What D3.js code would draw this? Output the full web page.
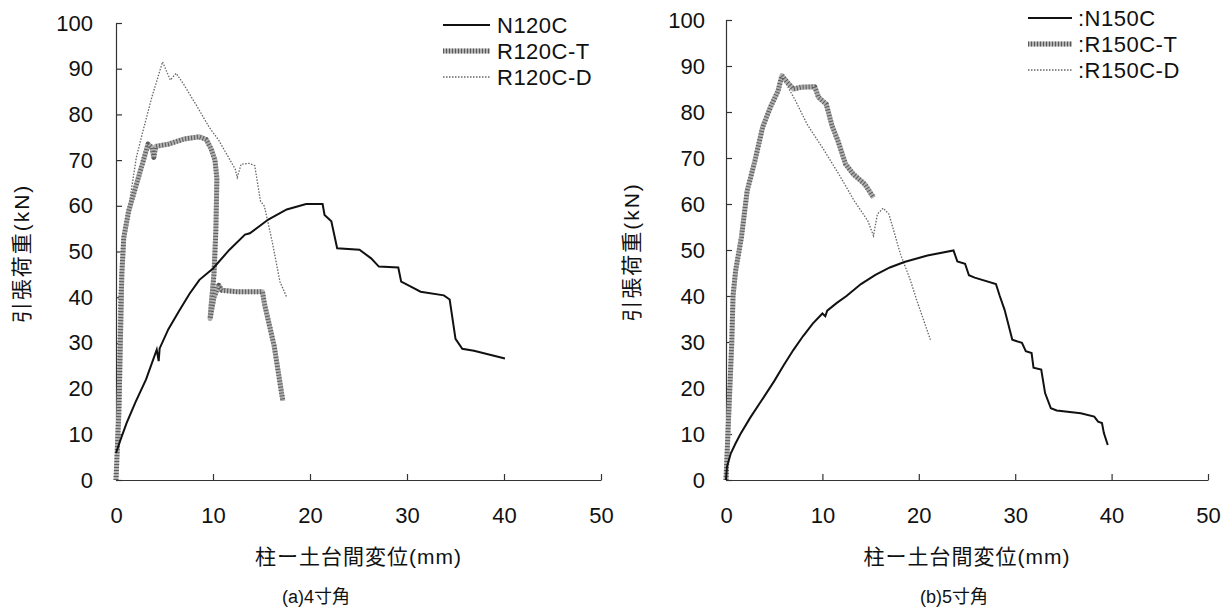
<!DOCTYPE html>
<html>
<head>
<meta charset="utf-8">
<script src="https://cdn.jsdelivr.net/npm/d3@7"></script>
<style>
  body { margin: 0; background: #fff; }
  svg { display: block; }
  text { font-family: "Liberation Sans", Arial, "Noto Sans CJK JP", sans-serif; fill: #111; }
  .jp { font-family: "Liberation Sans", "Noto Sans CJK JP", sans-serif; }
</style>
</head>
<body>
<div id="chart"></div>
<script>
// data: [displacement mm, load kN]
var n120c = [[0,5.9],[0.5,9],[1.1,12.5],[2,17],[3.1,22],[4.2,28.5],[4.4,26],[4.5,28.8],[5.4,33],[6.5,37],[7.6,40.8],[8.6,43.8],[10,46.3],[11.7,50.4],[13.3,53.7],[13.8,54],[15.7,57],[17.6,59.2],[19.6,60.4],[21.3,60.4],[21.5,58],[22.2,56.6],[22.8,50.7],[25.1,50.4],[26.3,48.5],[27.1,46.7],[29.1,46.5],[29.4,43.4],[30.4,42.3],[31.4,41.2],[33.8,40.4],[34.4,39.5],[35,30.9],[35.7,28.7],[36.9,28.3],[40.1,26.6]];
var r120cT = [[0,0],[0.3,15],[0.5,35],[0.6,45],[0.8,53],[1.3,58.8],[1.9,63.2],[2.7,69],[3.3,73.5],[3.7,72.8],[3.9,70.6],[4.1,73],[5.4,73.5],[7,74.6],[8.6,75.1],[9.3,74.5],[9.8,72.5],[10.2,70],[10.4,66],[10.3,55],[10.1,45],[9.8,38],[9.7,35.3],[10.1,40],[10.6,42.6],[10.9,41.5],[12.5,41.2],[15.1,41.2],[15.3,38.6],[16.3,29.4],[17.2,17.3]];
var r120cD = [[0,0],[0.15,20],[0.3,40],[0.6,50],[1.3,59.6],[2.1,70.6],[2.7,75.7],[3.7,83.8],[4.8,91.5],[5.6,87.5],[6.2,89],[7,86.5],[8.4,81.6],[9.6,77.2],[10.6,74.3],[12.3,68],[12.5,66.2],[12.9,69.1],[13.7,69.3],[14.3,68.8],[14.9,61],[15.3,59.9],[16.1,52.2],[16.9,43.4],[17.6,40]];

var n150c = [[0,0],[0.1,2.9],[0.5,5.8],[1,8],[1.5,10],[2.5,13.5],[3.6,17],[5,21.5],[6,25],[7,28.3],[8,31.3],[9,34],[10,36.2],[10.3,35.6],[10.5,36.8],[11.5,38.5],[12.5,40],[14,42.6],[15.5,44.6],[17,46.2],[18.5,47.4],[20.9,48.8],[23.6,49.9],[24,47.5],[24.8,47],[25.2,44.5],[25.8,44],[28,42.6],[28.4,40],[28.9,37],[29.7,30.5],[30.7,29.8],[31.1,28],[31.7,27.6],[31.9,24.4],[32.7,24],[33.1,18.9],[33.7,15.6],[34.3,15.1],[36.8,14.5],[38.2,13.8],[38.6,12.7],[39,12.4],[39.2,10.2],[39.6,7.6]];
var r150cT = [[0,0],[0.2,10],[0.4,20],[0.6,30],[0.73,40],[1,45.5],[1.6,52.8],[2.2,62.9],[3,69.4],[3.8,76.7],[4.6,81],[5.4,84.6],[5.8,87.9],[6.4,86.4],[7,85],[7.8,85.4],[9.2,85.5],[9.6,83.2],[10.4,81.7],[11,77],[11.6,73.8],[12.4,68.7],[13.2,66.5],[14.4,64.3],[15.3,61.4]];
var r150cD = [[0,0],[0.15,10],[0.3,20],[0.6,35],[1,45],[1.6,53],[2.2,62.5],[3,69],[3.8,76],[4.6,80.5],[5.4,84],[5.8,87.5],[6.4,85.5],[7.2,82.5],[8.4,77.4],[10.2,71.6],[11.7,66.5],[13.3,60.7],[14.7,56.4],[15.3,53.1],[15.7,57.8],[16.3,59.1],[16.9,57.8],[18.1,49.1],[19.1,43.6],[19.8,39],[21.2,30.5]];

var xTicks = [0, 10, 20, 30, 40, 50];
var yTicks = [0, 10, 20, 30, 40, 50, 60, 70, 80, 90, 100];
var namesA = ["N120C", "R120C-T", "R120C-D"];
var namesB = [":N150C", ":R150C-T", ":R150C-D"];
var yTitle = "引張荷重(kN)";
var xTitle = "柱ー土台間変位(mm)";
var captions = ["(a)4寸角", "(b)5寸角"];

var svg = d3.select("#chart").append("svg")
  .attr("width", 1229)
  .attr("height", 610);

var line = function(x, y) {
  return d3.line().x(d => x(d[0])).y(d => y(d[1]));
};

// three line looks: solid black, hatched thick grey, thin dotted
function styleSeries(sel, kind) {
  if (kind === 0) {
    sel.append("path").attr("fill", "none").attr("stroke", "#111").attr("stroke-width", 2);
  } else if (kind === 1) {
    sel.append("path").attr("fill", "none").attr("stroke", "#b0b0b0").attr("stroke-width", 5)
      .attr("stroke-linejoin", "round");
    sel.append("path").attr("fill", "none").attr("stroke", "#5a5a5a").attr("stroke-width", 5)
      .attr("stroke-dasharray", "1,2").attr("stroke-linejoin", "round");
  } else {
    sel.append("path").attr("fill", "none").attr("stroke", "#666").attr("stroke-width", 1.3)
      .attr("stroke-dasharray", "1.5,1.5");
  }
}

function drawPanel(p) {
  var x = d3.scaleLinear().domain([0, 50]).range([p.x0, p.x1]);
  var y = d3.scaleLinear().domain([0, 100]).range([480, p.yTop]);

  var gx = svg.append("g")
    .attr("transform", "translate(0,480)")
    .call(d3.axisBottom(x).tickValues(xTicks).tickSizeInner(-6).tickSizeOuter(0).tickPadding(27));
  var gy = svg.append("g")
    .attr("transform", `translate(${p.x0},0)`)
    .call(d3.axisLeft(y).tickValues(yTicks).tickSizeInner(-6).tickSizeOuter(0).tickPadding(p.yPad));
  [gx, gy].forEach(function(g) {
    g.selectAll("path, line").attr("stroke", "#333").attr("stroke-width", 1.2);
    g.selectAll("text").attr("font-size", "22px")
      .attr("font-family", "'Liberation Sans', Arial, sans-serif").attr("fill", "#111");
  });
  gx.selectAll(".tick").filter(d => d === 0).select("line").remove();

  [2, 1, 0].forEach(function(k) {
    var g = svg.append("g");
    styleSeries(g, k);
    g.selectAll("path").attr("d", line(x, y)(p.data[k]));
  });

  // legend
  p.names.forEach(function(nm, i) {
    var yy = p.legY + i * 26;
    var g = svg.append("g");
    styleSeries(g, i);
    g.selectAll("path").attr("d", `M${p.legX0},${yy}L${p.legX1},${yy}`);
    svg.append("text")
      .attr("x", p.legX1 + p.legGap)
      .attr("y", yy)
      .attr("dy", "0.36em")
      .attr("font-size", "22px")
      .attr("letter-spacing", "0.5px")
      .text(nm);
  });

  svg.append("text")
    .attr("class", "jp")
    .attr("transform", `translate(${p.yTitleX},${(480 + p.yTop) / 2 + 2}) rotate(-90)`)
    .attr("text-anchor", "middle")
    .attr("dy", "0.35em")
    .attr("font-size", "21px")
    .attr("letter-spacing", "2px")
    .text(yTitle);

  svg.append("text")
    .attr("class", "jp")
    .attr("x", (p.x0 + p.x1) / 2)
    .attr("y", 557)
    .attr("dy", "0.35em")
    .attr("text-anchor", "middle")
    .attr("font-size", "21px")
    .attr("letter-spacing", "1px")
    .text(xTitle);

  svg.append("text")
    .attr("class", "jp")
    .attr("x", p.capX)
    .attr("y", 597)
    .attr("dy", "0.35em")
    .attr("text-anchor", "middle")
    .attr("font-size", "18px")
    .text(p.caption);
}

drawPanel({
  x0: 116, x1: 601, yTop: 23, yPad: 23,
  data: [n120c, r120cT, r120cD], names: namesA,
  legX0: 443, legX1: 490, legGap: 7, legY: 25,
  yTitleX: 22, capX: 316, caption: captions[0]
});

drawPanel({
  x0: 726, x1: 1208, yTop: 20, yPad: 21,
  data: [n150c, r150cT, r150cD], names: namesB,
  legX0: 1028, legX1: 1072, legGap: 6, legY: 18,
  yTitleX: 632, capX: 954, caption: captions[1]
});
</script>
</body>
</html>
